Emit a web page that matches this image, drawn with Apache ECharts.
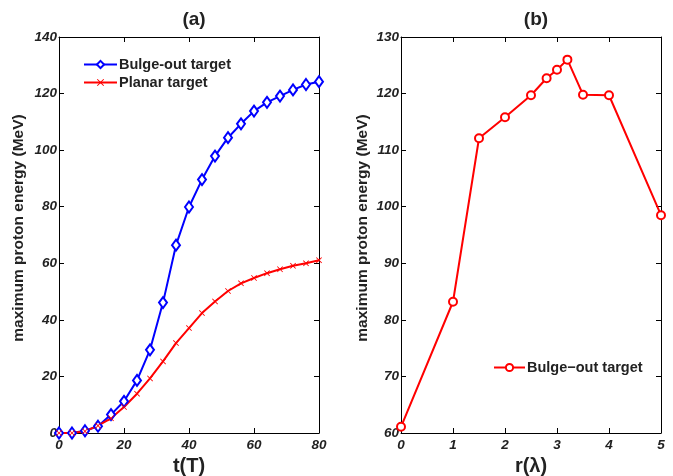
<!DOCTYPE html>
<html>
<head>
<meta charset="utf-8">
<script src="https://cdn.jsdelivr.net/npm/echarts@6/dist/echarts.min.js"></script>
<style>
  html, body { margin: 0; padding: 0; background: #fff; }
  #chart { width: 673px; height: 476px; }
</style>
</head>
<body>
<div id="chart"></div>
<script>
// panel (a): proton energy vs time
const tValues = [0, 4, 8, 12, 16, 20, 24, 28, 32, 36, 40, 44, 48, 52, 56, 60, 64, 68, 72, 76, 80]
const bulgeT = [0, 0, 0.8, 2.4, 6.5, 11.2, 18.6, 29.4, 46.1, 66.4, 79.9, 89.6, 97.9, 104.4, 109.3, 113.8, 116.9, 119.1, 121.3, 123.2, 124.2]
const planarT = [0, 0, 0.6, 2.6, 5.2, 9.2, 13.9, 19.3, 25.3, 31.8, 37.1, 42.4, 46.5, 50.2, 52.9, 54.8, 56.5, 57.9, 59.1, 60.0, 61.1]

// panel (b): proton energy vs r
const rValues = [0, 1, 1.5, 2, 2.5, 2.8, 3, 3.2, 3.5, 4, 5]
const bulgeR = [61.1, 83.2, 112.1, 115.8, 119.7, 122.7, 124.2, 126.0, 119.8, 119.7, 98.5]

const font = 'Liberation Sans, Arial, Helvetica, sans-serif'
const crossPath = 'path://M0,1L1,0L5,4L9,0L10,1L6,5L10,9L9,10L5,6L1,10L0,9L4,5Z'

const zip = (xs, ys) => xs.map((x, i) => [x, ys[i]])

const tickLabel = {
  fontFamily: font,
  fontSize: 13.5,
  fontWeight: 'bold',
  fontStyle: 'italic',
  color: '#222'
}

function boxAxes (gridIndex, kind, min, max, interval, name, nameGap) {
  const line = { show: true, onZero: false, lineStyle: { color: '#000', width: 1 } }
  const tick = { show: true, inside: true, length: 5, lineStyle: { color: '#000' } }
  const main = {
    type: 'value',
    gridIndex: gridIndex,
    min: min,
    max: max,
    interval: interval,
    position: kind === 'x' ? 'bottom' : 'left',
    axisLine: line,
    axisTick: tick,
    splitLine: { show: false },
    axisLabel: Object.assign({ margin: kind === 'x' ? 5 : 2 }, tickLabel),
    name: name,
    nameLocation: 'middle',
    nameGap: nameGap,
    nameTextStyle: {
      fontFamily: font,
      fontWeight: 'bold',
      fontSize: kind === 'x' ? 20 : 15.5,
      color: '#222',
      padding: kind === 'x' ? 0 : [0, 0, 0, 14]
    }
  }
  const mirror = {
    type: 'value',
    gridIndex: gridIndex,
    min: min,
    max: max,
    interval: interval,
    position: kind === 'x' ? 'top' : 'right',
    axisLine: line,
    axisTick: tick,
    splitLine: { show: false },
    axisLabel: { show: false }
  }
  return [main, mirror]
}

const chart = echarts.init(document.getElementById('chart'))

const legendText = { fontFamily: font, fontSize: 14.5, fontWeight: 'bold', color: '#222', padding: [0, 0, 0, -3] }

const option = {
  animation: false,
  backgroundColor: '#fff',
  title: [
    { text: '(a)', left: 189, top: 5, textAlign: 'center',
      textStyle: { fontFamily: font, fontSize: 19, fontWeight: 'bold', color: '#222' } },
    { text: '(b)', left: 531, top: 5, textAlign: 'center',
      textStyle: { fontFamily: font, fontSize: 19, fontWeight: 'bold', color: '#222' } }
  ],
  grid: [
    { left: 59, top: 37, width: 260, height: 396, outerBoundsMode: 'none' },
    { left: 401, top: 37, width: 260, height: 396, outerBoundsMode: 'none' }
  ],
  xAxis: [
    ...boxAxes(0, 'x', 0, 80, 20, 't(T)', 21),
    ...boxAxes(1, 'x', 0, 5, 1, 'r(λ)', 21)
  ],
  yAxis: [
    ...boxAxes(0, 'y', 0, 140, 20, 'maximum proton energy (MeV)', 32),
    ...boxAxes(1, 'y', 60, 130, 10, 'maximum proton energy (MeV)', 30)
  ],
  legend: [
    {
      data: ['Bulge-out target', 'Planar target'],
      left: 78,
      top: 52,
      orient: 'vertical',
      itemWidth: 33,
      itemHeight: 9,
      itemGap: 3,
      textStyle: legendText
    },
    {
      data: ['Bulge-out target (b)'],
      left: 488,
      top: 355,
      itemWidth: 31,
      itemHeight: 9,
      formatter: () => 'Bulge\u2212out target',
      textStyle: legendText
    }
  ],
  series: [
    {
      name: 'Bulge-out target',
      type: 'line',
      xAxisIndex: 0,
      yAxisIndex: 0,
      data: zip(tValues, bulgeT),
      symbol: 'emptyDiamond',
      symbolSize: [8, 11],
      color: '#0000ff',
      lineStyle: { width: 2, color: '#0000ff' },
      itemStyle: { color: '#0000ff', borderWidth: 2 }
    },
    {
      name: 'Planar target',
      type: 'line',
      xAxisIndex: 0,
      yAxisIndex: 0,
      data: zip(tValues, planarT),
      symbol: crossPath,
      symbolSize: 6,
      color: '#ff0000',
      lineStyle: { width: 2, color: '#ff0000' },
      itemStyle: { color: '#ff0000' }
    },
    {
      name: 'Bulge-out target (b)',
      type: 'line',
      xAxisIndex: 2,
      yAxisIndex: 2,
      data: zip(rValues, bulgeR),
      symbol: 'emptyCircle',
      symbolSize: 8,
      color: '#ff0000',
      lineStyle: { width: 2, color: '#ff0000' },
      itemStyle: { color: '#ff0000', borderWidth: 2 }
    }
  ]
}

chart.setOption(option)
</script>
</body>
</html>
